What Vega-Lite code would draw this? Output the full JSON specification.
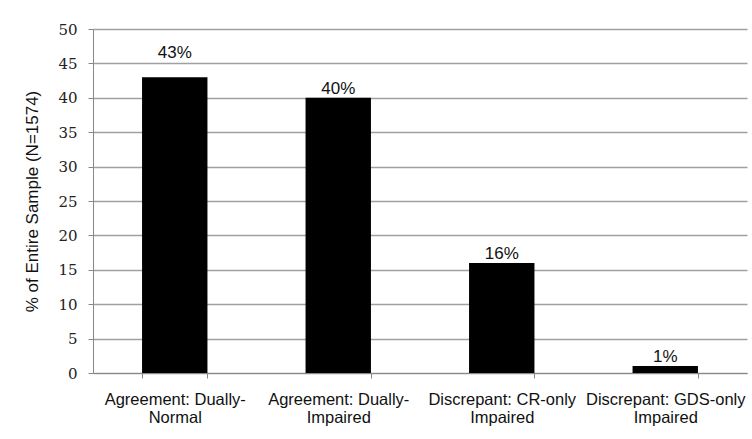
{
  "$schema": "https://vega.github.io/schema/vega-lite/v6.json",
  "autosize": {"type": "none"},
  "width": 654,
  "height": 344,
  "padding": {"left": 93, "top": 29, "right": 5, "bottom": 66},
  "background": "white",
  "config": {
    "view": {"stroke": null},
    "axis": {"domainColor": "#888888", "tickColor": "#888888"}
  },
  "data": {
    "values": [
      {"group": "Agreement: Dually-|Normal", "pct": 43, "label": "43%"},
      {"group": "Agreement: Dually-|Impaired", "pct": 40, "label": "40%"},
      {"group": "Discrepant: CR-only|Impaired", "pct": 16, "label": "16%"},
      {"group": "Discrepant: GDS-only|Impaired", "pct": 1, "label": "1%"}
    ]
  },
  "encoding": {
    "x": {
      "field": "group",
      "type": "nominal",
      "sort": null,
      "scale": {"paddingInner": 0.6, "paddingOuter": 0.3},
      "axis": {
        "title": null,
        "labelAngle": 0,
        "labelExpr": "split(datum.label, '|')",
        "labelFont": "Liberation Sans",
        "labelFontSize": 16.5,
        "labelColor": "#111111",
        "labelLineHeight": 18,
        "labelPadding": 13,
        "tickBand": "extent",
        "tickSize": 5,
        "domainColor": "#888888",
        "grid": false
      }
    },
    "y": {
      "field": "pct",
      "type": "quantitative",
      "scale": {"domain": [0, 50], "nice": false},
      "axis": {
        "title": "% of Entire Sample (N=1574)",
        "titleFont": "Liberation Sans",
        "titleFontSize": 17,
        "titleFontWeight": "normal",
        "titleColor": "#111111",
        "titlePadding": 16,
        "values": [0, 5, 10, 15, 20, 25, 30, 35, 40, 45, 50],
        "labelFont": "DejaVu Serif",
        "labelFontSize": 15,
        "labelColor": "#222222",
        "labelPadding": 11,
        "tickSize": 5,
        "grid": true,
        "gridColor": "#a0a0a0",
        "gridWidth": 1.6
      }
    }
  },
  "layer": [
    {"mark": {"type": "bar", "color": "#000000"}},
    {
      "transform": [{"filter": "datum.pct != 43"}],
      "mark": {"type": "text", "baseline": "alphabetic", "dy": -4, "font": "Liberation Sans", "fontSize": 17, "color": "#111111"},
      "encoding": {"text": {"field": "label"}}
    },
    {
      "transform": [{"filter": "datum.pct == 43"}],
      "mark": {"type": "text", "baseline": "alphabetic", "dy": -19, "font": "Liberation Sans", "fontSize": 17, "color": "#111111"},
      "encoding": {"text": {"field": "label"}}
    }
  ]
}
